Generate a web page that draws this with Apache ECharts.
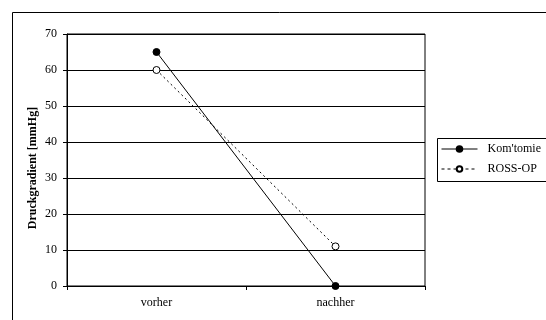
<!DOCTYPE html>
<html>
<head>
<meta charset="utf-8">
<script src="https://cdn.jsdelivr.net/npm/echarts@6/dist/echarts.min.js"></script>
<style>
  html, body { margin: 0; padding: 0; background: #fff; }
  #chart { width: 546px; height: 320px; }
</style>
</head>
<body>
<div id="chart"></div>
<script>
// Pressure gradient before and after surgery
const categories = ['vorher', 'nachher'];
const seriesNames = ["Kom'tomie", 'ROSS-OP'];
const komtomieValues = [65, 0];
const rossValues = [60, 11];
const yTicks = [0, 10, 20, 30, 40, 50, 60, 70];

const font = '"Liberation Serif", "Times New Roman", serif';
const chart = echarts.init(document.getElementById('chart'), null, { renderer: 'canvas' });

chart.setOption({
  animation: false,
  backgroundColor: '#fff',
  textStyle: { fontFamily: font, color: '#000' },
  graphic: [
    {
      // outer chart frame
      type: 'rect',
      left: 10, top: 10,
      shape: { width: 600, height: 400 },
      style: { fill: 'none', stroke: '#000', lineWidth: 1 },
      silent: true,
      z: 0
    },
    {
      // legend frame
      type: 'rect',
      left: 437, top: 138,
      shape: { width: 200, height: 43 },
      style: { fill: '#fff', stroke: '#000', lineWidth: 1 },
      silent: true,
      z: 1
    },
    {
      // vertical axis title
      type: 'text',
      x: 33, y: 168,
      rotation: Math.PI / 2,
      style: {
        text: 'Druckgradient [mmHg]',
        font: 'bold 12px ' + font,
        fill: '#000',
        textAlign: 'center',
        textVerticalAlign: 'middle'
      },
      silent: true,
      z: 5
    }
  ],
  grid: {
    left: 67, right: 121, top: 34, bottom: 34,
    show: true, borderColor: '#000', borderWidth: 1, backgroundColor: 'transparent'
  },
  legend: {
    orient: 'vertical',
    left: 441, top: 142,
    padding: 0,
    itemGap: 6,
    itemWidth: 36, itemHeight: 7,
    borderWidth: 0,
    z: 6,
    lineStyle: { width: 1 },
    textStyle: { fontFamily: font, fontSize: 12, color: '#000', lineHeight: 14, padding: [0, 0, 0, 5] },
    data: [
      { name: seriesNames[0], lineStyle: { width: 1 } },
      { name: seriesNames[1], lineStyle: { width: 1, type: [3, 3] } }
    ]
  },
  xAxis: {
    type: 'category',
    data: categories,
    boundaryGap: true,
    axisLine: { lineStyle: { color: '#000', width: 1 } },
    axisTick: { show: true, length: 4, lineStyle: { color: '#000' } },
    axisLabel: { fontFamily: font, fontSize: 12, color: '#000', margin: 11 },
    splitLine: { show: false }
  },
  yAxis: {
    type: 'value',
    min: yTicks[0], max: yTicks[yTicks.length - 1], interval: 10,
    axisLine: { show: true, lineStyle: { color: '#000', width: 1 } },
    axisTick: { show: true, length: 4, lineStyle: { color: '#000' } },
    axisLabel: { fontFamily: font, fontSize: 12, color: '#000', margin: 10 },
    splitLine: { show: true, lineStyle: { color: '#000', width: 1 } }
  },
  series: [
    {
      name: seriesNames[0],
      type: 'line',
      data: komtomieValues,
      symbol: 'circle',
      symbolSize: 7,
      lineStyle: { color: '#000', width: 1 },
      itemStyle: { color: '#000', borderColor: '#000', borderWidth: 1 },
      z: 3
    },
    {
      name: seriesNames[1],
      type: 'line',
      data: rossValues,
      symbol: 'circle',
      symbolSize: 7,
      lineStyle: { color: '#000', width: 1, type: [2, 3] },
      itemStyle: { color: '#fff', borderColor: '#000', borderWidth: 1 },
      z: 3
    }
  ]
});
</script>
</body>
</html>
